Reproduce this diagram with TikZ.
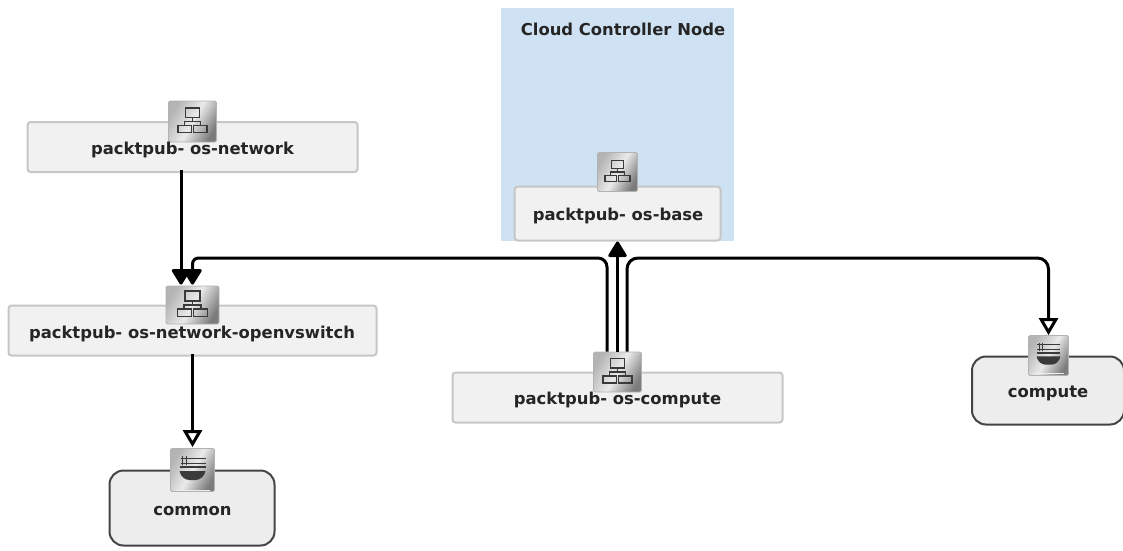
\documentclass[tikz,border=0pt]{standalone}
\usepackage{fontspec}
\setmainfont{DejaVu Sans}
\usetikzlibrary{arrows.meta,calc}
\definecolor{pageblue}{HTML}{CFE2F3}
\definecolor{roleborder}{HTML}{C6C6C6}
\definecolor{rolefill}{HTML}{F1F1F1}
\definecolor{cookborder}{HTML}{444444}
\definecolor{cookfill}{HTML}{EDEDED}
\definecolor{inktext}{HTML}{252525}
\definecolor{glyphink}{HTML}{3A3A3A}
\definecolor{steelA}{HTML}{B4B4B4}
\definecolor{steelB}{HTML}{EAEAEA}
\definecolor{steelC}{HTML}{7C7C7C}
\tikzset{
  x=1pt,y=-1pt,
  rolebox/.style={draw=roleborder,fill=rolefill,line width=2pt,rounded corners=3pt,inner sep=0pt},
  cookbox/.style={draw=cookborder,fill=cookfill,line width=2pt,rounded corners=14pt,inner sep=0pt},
  label/.style={font=\fontsize{16.4}{18}\selectfont\bfseries,text=inktext,inner sep=0pt},
  iconbox/.style={draw=gray!60,line width=.8pt,rounded corners=1.5pt,inner sep=0pt,
    left color=steelA,right color=steelC,middle color=steelB,shading angle=60},
  link/.style={draw=black,line width=3pt},
  solidtip/.style={-{Triangle[width=20pt,length=17pt,round=false]}},
  opentip/.style={-{Triangle[width=19pt,length=17pt,fill=white]}},
  pics/netglyph/.style={code={
    \draw[glyphink,line width=1.5pt] (-7,-13.5) rectangle (7,-4);
    \draw[glyphink,line width=1.5pt] (0,-4) -- (0,0) (-8,4) -- (-8,0) -- (8,0) -- (8,4);
    \draw[glyphink,line width=1.5pt] (-14.5,4) rectangle (-1,11);
    \draw[glyphink,line width=1.5pt] (1,4) rectangle (14.5,11);
  }},
  pics/bowlglyph/.style={code={
    \draw[glyphink,line width=1pt] (-12,-12) -- (13,-12) (-12,-7) -- (13,-7) (-10,-14) -- (-10,-5) (-6,-14) -- (-6,-5);
    \draw[glyphink,line width=1.6pt] (-13,-3) -- (13,-3);
    \fill[glyphink] (-13,1) -- (13,1) .. controls (12,6) and (8,10) .. (3,10) -- (-3,10) .. controls (-8,10) and (-12,6) .. (-13,1) -- cycle;
    \draw[white!85!gray,line width=1pt] (-17,20) -- (17,20);
  }}
}
\begin{document}
\begin{tikzpicture}
\useasboundingbox (0,0) rectangle (1123,550);
% cloud controller backdrop
\fill[pageblue] (501,8) rectangle (734,241);
\node[label,anchor=center] (cloud) at (623,29) {Cloud Controller Node};
% role boxes
\node[rolebox,minimum width=330pt,minimum height=50pt] (net) at (192.5,147) {};
\node[rolebox,minimum width=368pt,minimum height=50pt] (ovs) at (192.5,330.5) {};
\node[rolebox,minimum width=206pt,minimum height=54pt] (base) at (617.5,213.5) {};
\node[rolebox,minimum width=330pt,minimum height=50pt] (comp) at (617.5,397.5) {};
% cookbook boxes
\node[cookbox,minimum width=165pt,minimum height=75pt] (common) at (192,508) {};
\node[cookbox,minimum width=152pt,minimum height=68pt] (cook) at (1048,390.5) {};
% icons
\node[iconbox,minimum width=48pt,minimum height=41pt] (inet) at (192.5,121.5) {};
\node[iconbox,minimum width=53pt,minimum height=38pt] (iovs) at (192.5,305) {};
\node[iconbox,minimum width=40pt,minimum height=39pt] (ibase) at (617.5,172) {};
\node[iconbox,minimum width=48pt,minimum height=40pt] (icomp) at (617.5,372) {};
\node[iconbox,minimum width=44pt,minimum height=43pt] (icommon) at (192.5,470) {};
\node[iconbox,minimum width=40pt,minimum height=40pt] (icook) at (1048.5,355.5) {};
\pic[scale=1] at (inet.center) {netglyph};
\pic[scale=1.05] at (iovs.center) {netglyph};
\pic[scale=.85] at (ibase.center) {netglyph};
\pic[scale=1] at (icomp.center) {netglyph};
\pic[scale=1] at (icommon.center) {bowlglyph};
\pic[scale=.92] at (icook.center) {bowlglyph};
% connectors
\coordinate (bus) at (0,258);
\coordinate (netout) at ([xshift=-11.5pt,yshift=3pt]net.south);
\coordinate (ovsin) at ([xshift=-11.5pt,yshift=1pt]iovs.north);
\draw[link,solidtip] (netout) -- (ovsin);
\coordinate (ovsinb) at ([yshift=1pt]iovs.north);
\coordinate (compL) at ([xshift=-10.5pt]icomp.north);
\draw[link,solidtip,rounded corners=9pt] (compL) -- (compL |- bus) [rounded corners=6pt] -- (ovsinb |- bus) -- (ovsinb);
\draw[link,solidtip] (icomp.north) -- (base.south);
\coordinate (compR) at ([xshift=9.5pt]icomp.north);
\draw[link,opentip,rounded corners=11pt] (compR) -- (compR |- bus) -- (icook.north |- bus) -- (icook.north);
\coordinate (ovsout) at ([yshift=3pt]ovs.south);
\draw[link,opentip] (ovsout) -- ([yshift=1pt]icommon.north);
% labels
\node[label] (tnet) at (192.5,150) {packtpub- os-network};
\node[label] (tovs) at (192,334) {packtpub- os-network-openvswitch};
\node[label] (tbase) at (618,216) {packtpub- os-base};
\node[label] (tcomp) at (617.5,400) {packtpub- os-compute};
\node[label] (tcommon) at (192.5,511) {common};
\node[label] (tcook) at (1048,393) {compute};
\end{tikzpicture}
\end{document}
